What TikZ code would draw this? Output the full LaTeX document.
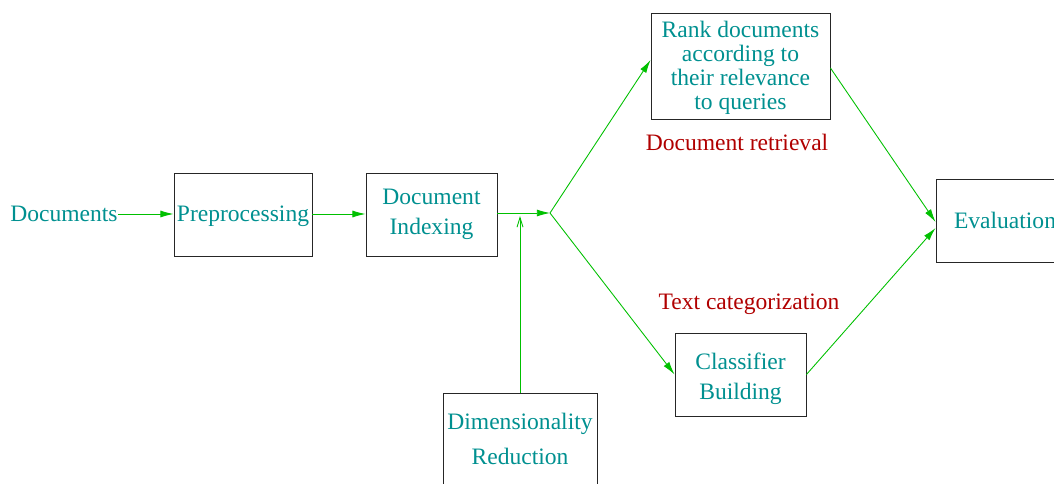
\documentclass[tikz,border=0pt]{standalone}
\usepackage{fontspec}
\setmainfont{Liberation Serif}
\usetikzlibrary{arrows.meta}
\definecolor{figteal}{RGB}{0,144,144}
\definecolor{figred}{RGB}{176,0,0}
\definecolor{figgreen}{RGB}{0,192,0}
\newcommand{\stagetext}[2]{\raisebox{#1}[\height][\depth]{\begin{tabular}{@{}c@{}}#2\end{tabular}}}

\begin{document}
\begin{tikzpicture}[>={Latex[length=7.5pt,width=4pt]},
        txt/.style={text=figteal, font=\fontsize{13.4}{17}\selectfont, align=center, inner sep=0pt},
        stage/.style={txt, draw=black!85, line width=0.5pt, minimum height=1.66cm},
        lbl/.style={text=figred, font=\fontsize{13.4}{17}\selectfont, inner sep=0pt},
        flow/.style={figgreen, line width=0.5pt}]
        \useasboundingbox (0,0) rectangle (21.08,-9.68);

        \node[txt] (docs) at (1.28,-4.28) {Documents};
        \node[stage, minimum width=2.76cm] (prep) at (4.86,-4.29) {\stagetext{-0.5pt}{Preprocessing}};
        \node[stage, minimum width=2.62cm] (index) at (8.63,-4.29) {\stagetext{0.6pt}{Document\\ Indexing}};
        \coordinate (split) at (11.0,-4.26);
        \node[stage, minimum width=3.08cm, minimum height=1.84cm,
            font=\fontsize{13.4}{19.8}\selectfont] (dimred) at (10.4,-8.78) {Dimensionality\\ Reduction};
        \node[stage, minimum width=3.58cm, minimum height=2.12cm,
            font=\fontsize{13.4}{13.6}\selectfont] (rank) at (14.81,-1.32)
            {\stagetext{-1.6pt}{Rank documents\\ according to\\ their relevance\\ to queries}};
        \node[lbl] (retr) at (14.74,-2.84) {Document retrieval};
        \node[stage, minimum width=2.62cm] (clf) at (14.81,-7.49) {\stagetext{-2.3pt}{Classifier\\ Building}};
        \node[lbl] (cat) at (14.98,-6.08) {Text categorization};
        \node[stage, minimum width=2.76cm] (eval) at (20.1,-4.41) {Evaluation};

        % main chain
        \draw[flow,->] (docs.east) -- (docs.east -| prep.west);
        \draw[flow,->] (prep.east |- docs.east) -- (index.west |- docs.east);
        \draw[flow,->] (index.east |- split) -- (split);
        \draw[flow,-{Straight Barb[length=5.5pt,width=3.4pt]}] (dimred.north) -- ([yshift=-0.06cm]dimred.north |- split);

        % the two branches
        \draw[flow,->] (split) -- ([yshift=0.12cm]rank.west);
        \draw[flow,->] (split) -- (clf.west);
        \draw[flow,->] ([yshift=-0.04cm]rank.east) -- ([yshift=-0.03cm]eval.west);
        \draw[flow,->] (clf.east) -- ([yshift=-0.15cm]eval.west);
\end{tikzpicture}
\end{document}
